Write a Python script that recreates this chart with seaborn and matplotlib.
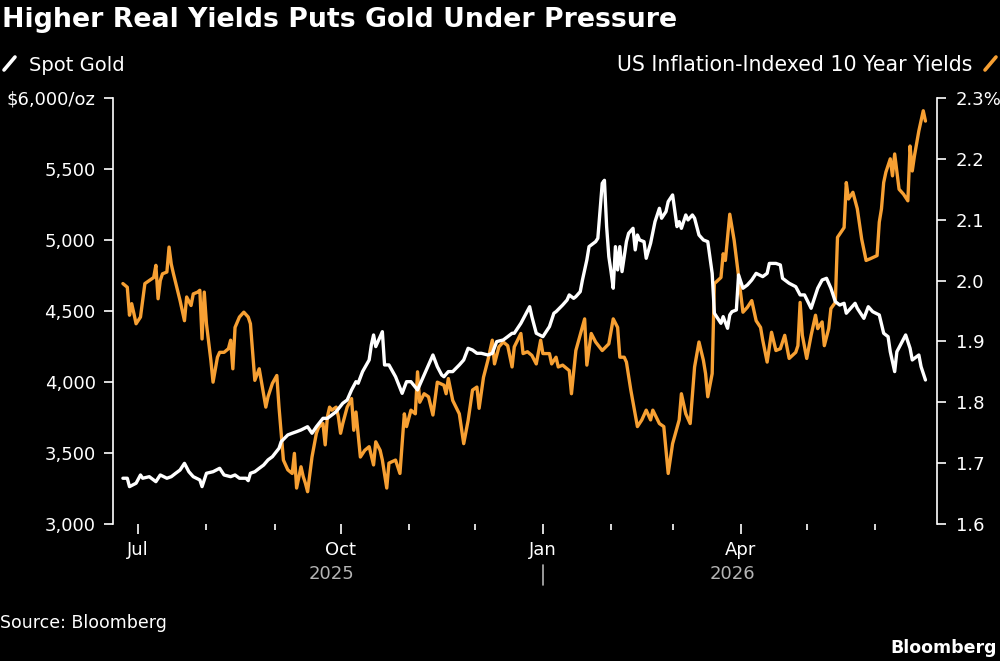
import pandas as pd
import seaborn as sns
import matplotlib.pyplot as plt
import matplotlib.dates as mdates
import matplotlib.transforms as mtransforms
from matplotlib.lines import Line2D

# Spot gold, $/oz
gold_dates = [
    "2025-06-24", "2025-06-26", "2025-06-27", "2025-06-30", "2025-07-02", "2025-07-03", "2025-07-06",
    "2025-07-09", "2025-07-11", "2025-07-14", "2025-07-16", "2025-07-18", "2025-07-20", "2025-07-22",
    "2025-07-24", "2025-07-26", "2025-07-29", "2025-07-30", "2025-08-01", "2025-08-04", "2025-08-07",
    "2025-08-09", "2025-08-12", "2025-08-14", "2025-08-16", "2025-08-19", "2025-08-20", "2025-08-21",
    "2025-08-23", "2025-08-25", "2025-08-27", "2025-08-29", "2025-08-31", "2025-09-03", "2025-09-04",
    "2025-09-07", "2025-09-09", "2025-09-11", "2025-09-13", "2025-09-16", "2025-09-18", "2025-09-20",
    "2025-09-23", "2025-09-25", "2025-09-29", "2025-10-02", "2025-10-04", "2025-10-06", "2025-10-08",
    "2025-10-09", "2025-10-11", "2025-10-14", "2025-10-15", "2025-10-16", "2025-10-17", "2025-10-20",
    "2025-10-21", "2025-10-23", "2025-10-26", "2025-10-29", "2025-10-31", "2025-11-02", "2025-11-05",
    "2025-11-07", "2025-11-10", "2025-11-12", "2025-11-14", "2025-11-16", "2025-11-17", "2025-11-19",
    "2025-11-21", "2025-11-24", "2025-11-26", "2025-11-28", "2025-11-30", "2025-12-02", "2025-12-04",
    "2025-12-07", "2025-12-09", "2025-12-11", "2025-12-14", "2025-12-16", "2025-12-18", "2025-12-19",
    "2025-12-22", "2025-12-24", "2025-12-26", "2025-12-27", "2025-12-29", "2026-01-01", "2026-01-04",
    "2026-01-06", "2026-01-07", "2026-01-10", "2026-01-12", "2026-01-13", "2026-01-15", "2026-01-16",
    "2026-01-18", "2026-01-19", "2026-01-21", "2026-01-22", "2026-01-25", "2026-01-26", "2026-01-28",
    "2026-01-29", "2026-01-30", "2026-01-31", "2026-02-01", "2026-02-02", "2026-02-03", "2026-02-04",
    "2026-02-05", "2026-02-06", "2026-02-08", "2026-02-09", "2026-02-11", "2026-02-12", "2026-02-13",
    "2026-02-14", "2026-02-16", "2026-02-17", "2026-02-19", "2026-02-21", "2026-02-23", "2026-02-24",
    "2026-02-26", "2026-02-27", "2026-03-01", "2026-03-03", "2026-03-04", "2026-03-05", "2026-03-07",
    "2026-03-08", "2026-03-10", "2026-03-11", "2026-03-13", "2026-03-15", "2026-03-17", "2026-03-19",
    "2026-03-20", "2026-03-23", "2026-03-24", "2026-03-26", "2026-03-27", "2026-03-28", "2026-03-30",
    "2026-03-31", "2026-04-02", "2026-04-04", "2026-04-06", "2026-04-08", "2026-04-11", "2026-04-13",
    "2026-04-14", "2026-04-17", "2026-04-19", "2026-04-20", "2026-04-23", "2026-04-26", "2026-04-28",
    "2026-04-30", "2026-05-03", "2026-05-06", "2026-05-08", "2026-05-10", "2026-05-12", "2026-05-14",
    "2026-05-16", "2026-05-18", "2026-05-19", "2026-05-21", "2026-05-23", "2026-05-24", "2026-05-27",
    "2026-05-29", "2026-05-31", "2026-06-03", "2026-06-05", "2026-06-07", "2026-06-08", "2026-06-10",
    "2026-06-11", "2026-06-13", "2026-06-15", "2026-06-17", "2026-06-18", "2026-06-21", "2026-06-22",
    "2026-06-24",
]
gold_values = [
    3322, 3322, 3263, 3287, 3345, 3322, 3333,
    3298, 3345, 3322, 3333, 3357, 3380, 3427,
    3368, 3333, 3310, 3263, 3357, 3368, 3392,
    3345, 3333, 3345, 3322, 3322, 3305, 3357,
    3368, 3392, 3415, 3451, 3474, 3533, 3580,
    3627, 3639, 3650, 3662, 3685, 3639, 3685,
    3744, 3744, 3791, 3850, 3873, 3944, 4002,
    3991, 4073, 4155, 4261, 4331, 4249, 4354,
    4120, 4120, 4037, 3920, 4002, 4002, 3944,
    4014, 4120, 4190, 4108, 4049, 4037, 4073,
    4073, 4120, 4155, 4237, 4225, 4202, 4202,
    4190, 4202, 4284, 4296, 4319, 4343, 4343,
    4413, 4472, 4530, 4460, 4343, 4319, 4390,
    4484, 4495, 4542, 4577, 4613, 4589, 4601,
    4636, 4718, 4859, 4953, 4988, 5012, 5399,
    5420, 5094, 4883, 4777, 4660, 4953, 4789,
    4953, 4777, 4988, 5047, 5082, 4930, 5035,
    5000, 4988, 4871, 4977, 5129, 5223, 5153,
    5200, 5270, 5317, 5094, 5129, 5082, 5176,
    5141, 5176, 5153, 5035, 5000, 4988, 4765,
    4484, 4413, 4460, 4378, 4472, 4495, 4507,
    4754, 4660, 4683, 4718, 4765, 4742, 4765,
    4835, 4835, 4824, 4730, 4695, 4671, 4613,
    4613, 4519, 4660, 4718, 4730, 4660, 4566,
    4542, 4554, 4484, 4519, 4554, 4519, 4448,
    4530, 4495, 4472, 4343, 4319, 4213, 4073,
    4213, 4272, 4331, 4237, 4155, 4190, 4108,
    4014,
]

# US inflation-indexed 10 year yields, %
yield_dates = [
    "2025-06-24", "2025-06-26", "2025-06-27", "2025-06-28", "2025-06-29", "2025-06-30", "2025-07-02",
    "2025-07-04", "2025-07-06", "2025-07-08", "2025-07-09", "2025-07-10", "2025-07-11", "2025-07-12",
    "2025-07-14", "2025-07-15", "2025-07-16", "2025-07-17", "2025-07-20", "2025-07-22", "2025-07-23",
    "2025-07-25", "2025-07-26", "2025-07-28", "2025-07-29", "2025-07-30", "2025-07-31", "2025-08-01",
    "2025-08-03", "2025-08-04", "2025-08-06", "2025-08-07", "2025-08-09", "2025-08-11", "2025-08-12",
    "2025-08-13", "2025-08-14", "2025-08-16", "2025-08-18", "2025-08-20", "2025-08-21", "2025-08-23",
    "2025-08-25", "2025-08-28", "2025-08-29", "2025-08-31", "2025-09-02", "2025-09-03", "2025-09-05",
    "2025-09-07", "2025-09-09", "2025-09-10", "2025-09-11", "2025-09-13", "2025-09-14", "2025-09-15",
    "2025-09-16", "2025-09-18", "2025-09-20", "2025-09-21", "2025-09-23", "2025-09-24", "2025-09-25",
    "2025-09-26", "2025-09-27", "2025-09-29", "2025-09-30", "2025-10-01", "2025-10-02", "2025-10-04",
    "2025-10-06", "2025-10-07", "2025-10-08", "2025-10-10", "2025-10-12", "2025-10-14", "2025-10-16",
    "2025-10-17", "2025-10-19", "2025-10-20", "2025-10-22", "2025-10-23", "2025-10-26", "2025-10-28",
    "2025-10-30", "2025-10-31", "2025-11-02", "2025-11-04", "2025-11-05", "2025-11-06", "2025-11-08",
    "2025-11-10", "2025-11-12", "2025-11-14", "2025-11-17", "2025-11-18", "2025-11-19", "2025-11-21",
    "2025-11-24", "2025-11-26", "2025-11-28", "2025-11-30", "2025-12-02", "2025-12-03", "2025-12-05",
    "2025-12-07", "2025-12-09", "2025-12-10", "2025-12-12", "2025-12-14", "2025-12-16", "2025-12-18",
    "2025-12-19", "2025-12-22", "2025-12-23", "2025-12-25", "2025-12-27", "2025-12-29", "2025-12-31",
    "2026-01-01", "2026-01-04", "2026-01-05", "2026-01-07", "2026-01-08", "2026-01-10", "2026-01-13",
    "2026-01-14", "2026-01-16", "2026-01-20", "2026-01-21", "2026-01-23", "2026-01-25", "2026-01-28",
    "2026-01-31", "2026-02-02", "2026-02-04", "2026-02-05", "2026-02-07", "2026-02-08", "2026-02-10",
    "2026-02-13", "2026-02-15", "2026-02-17", "2026-02-19", "2026-02-20", "2026-02-23", "2026-02-25",
    "2026-02-27", "2026-03-01", "2026-03-04", "2026-03-05", "2026-03-07", "2026-03-09", "2026-03-11",
    "2026-03-13", "2026-03-15", "2026-03-16", "2026-03-17", "2026-03-19", "2026-03-20", "2026-03-23",
    "2026-03-24", "2026-03-25", "2026-03-27", "2026-03-29", "2026-04-01", "2026-04-02", "2026-04-04",
    "2026-04-06", "2026-04-08", "2026-04-10", "2026-04-11", "2026-04-13", "2026-04-15", "2026-04-17",
    "2026-04-19", "2026-04-21", "2026-04-23", "2026-04-26", "2026-04-27", "2026-04-28", "2026-04-29",
    "2026-05-01", "2026-05-03", "2026-05-05", "2026-05-06", "2026-05-08", "2026-05-09", "2026-05-11",
    "2026-05-12", "2026-05-14", "2026-05-15", "2026-05-18", "2026-05-19", "2026-05-20", "2026-05-22",
    "2026-05-24", "2026-05-26", "2026-05-28", "2026-05-30", "2026-06-02", "2026-06-03", "2026-06-04",
    "2026-06-05", "2026-06-06", "2026-06-08", "2026-06-09", "2026-06-10", "2026-06-12", "2026-06-14",
    "2026-06-16", "2026-06-17", "2026-06-18", "2026-06-19", "2026-06-21", "2026-06-23", "2026-06-24",
]
yield_values = [
    1.995, 1.989, 1.943, 1.962, 1.946, 1.929, 1.940,
    1.995, 2.000, 2.005, 2.025, 1.970, 2.000, 2.011,
    2.014, 2.055, 2.027, 2.011, 1.967, 1.934, 1.973,
    1.959, 1.978, 1.981, 1.984, 1.904, 1.981, 1.929,
    1.869, 1.833, 1.874, 1.882, 1.882, 1.888, 1.902,
    1.855, 1.923, 1.940, 1.948, 1.940, 1.929, 1.836,
    1.855, 1.792, 1.809, 1.831, 1.844, 1.792, 1.705,
    1.689, 1.683, 1.716, 1.659, 1.694, 1.678, 1.667,
    1.653, 1.710, 1.749, 1.759, 1.765, 1.730, 1.776,
    1.792, 1.787, 1.792, 1.776, 1.749, 1.765, 1.792,
    1.806, 1.754, 1.784, 1.710, 1.721, 1.727, 1.697,
    1.735, 1.721, 1.705, 1.659, 1.700, 1.705, 1.683,
    1.781, 1.760, 1.787, 1.781, 1.850, 1.800, 1.814,
    1.809, 1.779, 1.833, 1.828, 1.814, 1.839, 1.803,
    1.781, 1.732, 1.770, 1.820, 1.825, 1.790, 1.841,
    1.869, 1.902, 1.863, 1.891, 1.899, 1.893, 1.858,
    1.891, 1.913, 1.880, 1.883, 1.877, 1.863, 1.902,
    1.880, 1.880, 1.863, 1.874, 1.858, 1.861, 1.852,
    1.814, 1.885, 1.937, 1.861, 1.913, 1.899, 1.885,
    1.896, 1.937, 1.923, 1.874, 1.874, 1.866, 1.820,
    1.760, 1.771, 1.787, 1.771, 1.787, 1.765, 1.760,
    1.683, 1.732, 1.771, 1.814, 1.781, 1.765, 1.858,
    1.899, 1.869, 1.847, 1.809, 1.847, 1.995, 2.005,
    2.044, 2.033, 2.109, 2.066, 1.978, 1.948, 1.956,
    1.967, 1.934, 1.923, 1.902, 1.866, 1.915, 1.885,
    1.888, 1.910, 1.872, 1.882, 1.893, 1.964, 1.910,
    1.872, 1.910, 1.943, 1.921, 1.932, 1.893, 1.921,
    1.954, 1.964, 2.071, 2.087, 2.161, 2.134, 2.145,
    2.118, 2.068, 2.033, 2.036, 2.041, 2.096, 2.118,
    2.161, 2.178, 2.200, 2.172, 2.208, 2.150, 2.142,
    2.131, 2.221, 2.180, 2.205, 2.246, 2.279, 2.262,
]

gold_ticks = [3000, 3500, 4000, 4500, 5000, 5500, 6000]
gold_labels = ["3,000", "3,500", "4,000", "4,500", "5,000", "5,500", "$6,000/oz"]
yield_ticks = [1.6, 1.7, 1.8, 1.9, 2.0, 2.1, 2.2, 2.3]
yield_labels = ["1.6", "1.7", "1.8", "1.9", "2.0", "2.1", "2.2", "2.3%"]

gold = pd.DataFrame({"date": pd.to_datetime(gold_dates), "value": gold_values})
yields = pd.DataFrame({"date": pd.to_datetime(yield_dates), "value": yield_values})

ORANGE = "#f7a033"
GREY = "#b4b4b4"

sns.set_theme(style="ticks", rc={
    "figure.facecolor": "black",
    "axes.facecolor": "black",
    "text.color": "white",
    "axes.labelcolor": "white",
    "xtick.color": "white",
    "ytick.color": "white",
    "axes.edgecolor": "white",
})
plt.rcParams["font.family"] = ["DejaVu Sans"]

fig = plt.figure(figsize=(10, 6.61), dpi=100)
ax = fig.add_axes([0.113, 0.2073, 0.824, 0.6445])
ax2 = ax.twinx()

sns.lineplot(data=yields, x="date", y="value", ax=ax2, color=ORANGE, linewidth=2.4)
sns.lineplot(data=gold, x="date", y="value", ax=ax, color="white", linewidth=2.4)

# gold line on top
ax.set_zorder(ax2.get_zorder() + 1)
ax.patch.set_visible(False)

ax.set_xlim(pd.Timestamp("2025-06-19 12:00"), pd.Timestamp("2026-06-29 06:00"))
ax.set_ylim(3000, 6000)
ax2.set_ylim(1.6, 2.3)

for a in (ax, ax2):
    a.set_xlabel("")
    a.set_ylabel("")
    for s in a.spines.values():
        s.set_visible(False)
ax.spines["left"].set_visible(True)
ax.spines["left"].set_linewidth(1.2)
ax2.spines["right"].set_visible(True)
ax2.spines["right"].set_linewidth(1.2)

ax.set_yticks(gold_ticks)
ax.set_yticklabels(gold_labels)
ax.tick_params(axis="y", direction="out", length=6.5, width=1.2, pad=6, labelsize=13, colors="white")
ax2.set_yticks(yield_ticks)
ax2.set_yticklabels(yield_labels)
ax2.tick_params(axis="y", direction="out", length=6.5, width=1.2, pad=7, labelsize=13, colors="white")

ax.xaxis.set_major_locator(mdates.MonthLocator(bymonth=[1, 4, 7, 10]))
ax.xaxis.set_major_formatter(mdates.DateFormatter("%b"))
ax.xaxis.set_minor_locator(mdates.MonthLocator())
ax.tick_params(axis="x", which="major", direction="out", length=7, width=1.2, pad=5, labelsize=13, colors="white")
ax.tick_params(axis="x", which="minor", direction="out", length=4.5, width=1.2, colors="white")

# year labels and separator under the month ticks
tb = mtransforms.blended_transform_factory(ax.transData, ax.transAxes)
ax.text(pd.Timestamp("2025-09-27"), -0.117, "2025", transform=tb, ha="center", va="center",
        fontsize=13, color=GREY)
ax.text(pd.Timestamp("2026-03-28"), -0.117, "2026", transform=tb, ha="center", va="center",
        fontsize=13, color=GREY)
ax.plot([pd.Timestamp("2026-01-01")] * 2, [-0.097, -0.143], transform=tb, color=GREY,
        lw=1.2, clip_on=False)

# title, legend, footer
fig.text(0.002, 1 - 27 / 661, "Higher Real Yields Puts Gold Under Pressure", ha="left", va="baseline",
         fontsize=19.3, fontweight="bold", color="white")
fig.add_artist(Line2D([0.004, 0.015], [1 - 70 / 661, 1 - 57 / 661], transform=fig.transFigure,
                      color="white", lw=2.6, solid_capstyle="round"))
fig.text(0.029, 1 - 71 / 661, "Spot Gold", ha="left", va="baseline", fontsize=14, color="white")
fig.text(0.972, 1 - 71 / 661, "US Inflation-Indexed 10 Year Yields", ha="right", va="baseline",
         fontsize=14.8, color="white")
fig.add_artist(Line2D([0.985, 0.996], [1 - 70 / 661, 1 - 57 / 661], transform=fig.transFigure,
                      color=ORANGE, lw=2.6, solid_capstyle="round"))
fig.text(0.0, 1 - 628 / 661, "Source: Bloomberg", ha="left", va="baseline", fontsize=12.5, color="white")
fig.text(0.997, 1 - 653 / 661, "Bloomberg", ha="right", va="baseline", fontsize=12.5,
         fontweight="bold", color="white")

fig.savefig("out.png", dpi=100, facecolor="black")
